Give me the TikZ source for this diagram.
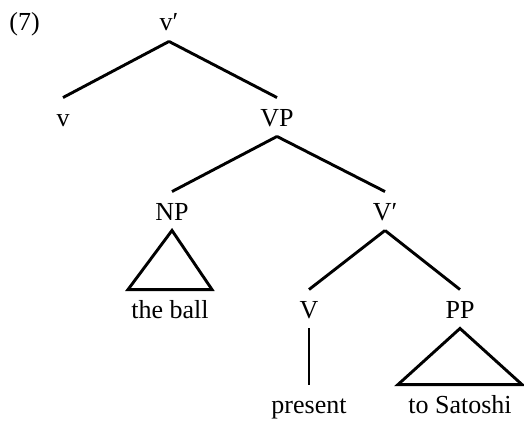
\documentclass[tikz,border=0pt]{standalone}
\usepackage{fontspec}
\setmainfont{Liberation Serif}
\usepackage{tikz}

\begin{document}
\begin{tikzpicture}[x=1pt,y=-1pt,line width=2.9pt,
  every node/.style={anchor=base,inner xsep=2pt,inner ysep=9pt,
    text height=18pt,text depth=0pt,font=\fontsize{26}{30}\selectfont}]
\useasboundingbox (0,0) rectangle (524,420);

\draw (6,31)   node (10) [anchor=base west] {(7)};
\draw (169,31) node (12) {v′};

\draw (63,126)  node (21) {v};
\draw (277,126) node (23) {VP};
\draw (12.south) -- (21.north);
\draw (12.south) -- (23.north);

\draw (172,220) node (32) {NP};
\draw (385,220) node (34) {V′};
\draw (23.south) -- (32.north);
\draw (23.south) -- (34.north);

\draw (170,318) node (42) {the ball};
\draw (32.south) -- ([xshift=-42pt]42.north) -- ([xshift=42pt]42.north) -- cycle;

\draw (309,318) node (43) {V};
\draw (460,318) node (45) {PP};
\draw (34.south) -- (43.north);
\draw (34.south) -- (45.north);

\draw (309,413) node (53) {present};
\draw (460,413) node (55) {to Satoshi};
\draw (43.south) -- (53.north);
\draw (45.south) -- ([xshift=-62pt]55.north) -- ([xshift=62pt]55.north) -- cycle;
\end{tikzpicture}
\end{document}
